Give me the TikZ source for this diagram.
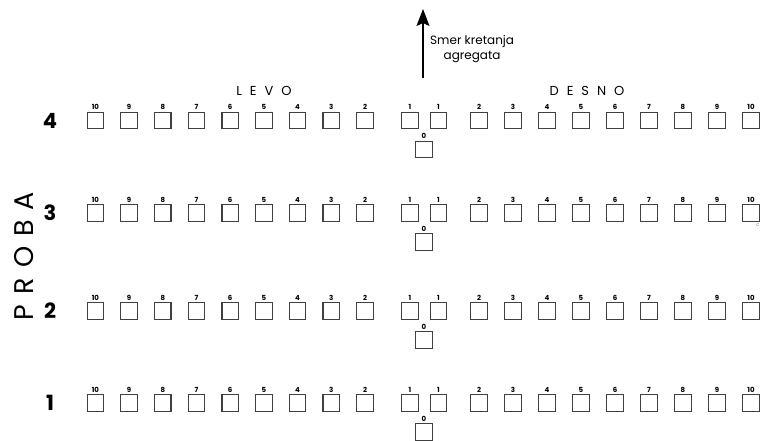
\documentclass[tikz,border=0pt]{standalone}
\usepackage{fontspec}
\setmainfont{Poppins}
\usetikzlibrary{arrows.meta}

\tikzset{
  seat/.style={draw=black!75, line width=1.2pt, minimum size=16.5pt, inner sep=0pt},
  seatnum/.style={font=\fontsize{7}{7}\selectfont\bfseries, inner sep=0.5pt, label distance=1pt},
  rownum/.style={font=\fontsize{21}{21}\selectfont\bfseries},
  side/.style={font=\fontsize{13}{13}\selectfont, anchor=base},
}

\begin{document}
\begin{tikzpicture}[x=1pt, y=-1pt, >=Stealth]
    \useasboundingbox (0,0) rectangle (766,440);

    % the arrow for the direction of travel
    \coordinate (arrowfoot) at (423,78);
    \coordinate (arrowtip) at (423,9);
    \draw[-{Stealth[length=17pt,width=13pt,inset=3pt]}, line width=1.3pt] (arrowfoot) -- (arrowtip);
    % the text beside the arrow
    \node[anchor=west, align=center, font=\fontsize{12}{15}\selectfont, inner sep=0pt] (smer) at (430,49) {Smer kretanja\\agregata};

    % the labels of the two sides
    \node[side] (levo) at (264,95) {L\hspace{8pt}E\hspace{8pt}V\hspace{8pt}O};
    \node[side] (desno) at (587,95) {D\hspace{8pt}E\hspace{8pt}S\hspace{8pt}N\hspace{8pt}O};

    % the vertical label on the left
    \node[rotate=90, anchor=base, font=\fontsize{27}{27}\selectfont] (proba) at (33,256) {P\hspace{10pt}R\hspace{10pt}O\hspace{10pt}B\hspace{10pt}A};

    % the four rows of seats
    \foreach \r/\y in {4/120.5, 3/213, 2/311, 1/403} {
        % the number of the row
        \node[rownum] (row\r) at (50,\y) {\r};
        % left side, 2 to 10
        \foreach \i in {2,...,10}
            \node[seat, label={[seatnum]above:\i}] (L\r-\i) at ({365-(\i-2)*33.7},\y) {};
        % right side, 2 to 10
        \foreach \i in {2,...,10}
            \node[seat, label={[seatnum]above:\i}] (R\r-\i) at ({479+(\i-2)*34},\y) {};
        % the two seats 1 and the seat 0 below them
        \node[seat, label={[seatnum]above:1}] (L\r-1) at (410,\y) {};
        \node[seat, label={[seatnum]above:1}] (R\r-1) at (438.5,\y) {};
        \node[seat, label={[seatnum]above:0}] (Z\r) at (424,{\y+29}) {};
    }

    % the small mark at the end of row 3
    \node[font=\fontsize{5}{5}\selectfont, text=black!50, inner sep=0pt] (mark) at (758,225) {c};
\end{tikzpicture}
\end{document}
